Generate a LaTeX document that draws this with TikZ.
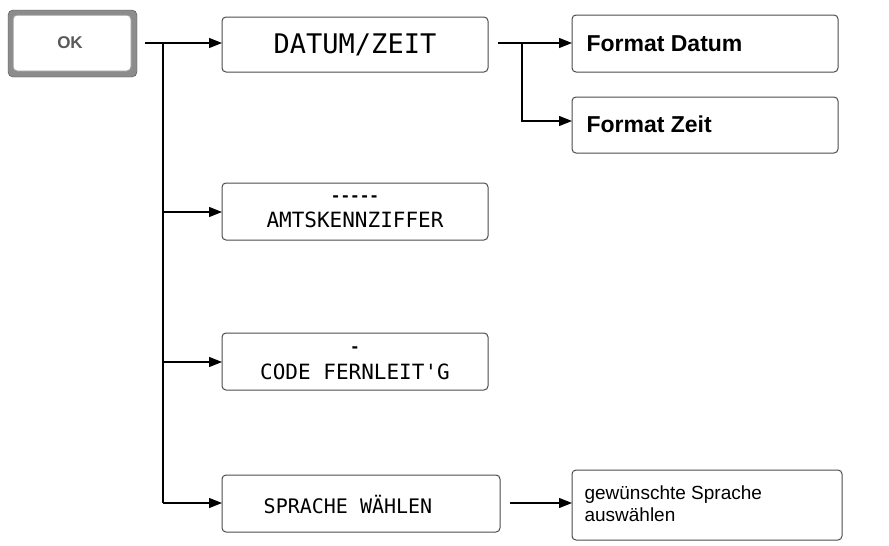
\documentclass[tikz,border=0pt]{standalone}
\usepackage{fontspec}
\setmainfont{Liberation Sans}
\newfontfamily\lcd{DejaVu Sans Mono}
\usetikzlibrary{arrows.meta}
\begin{document}
\begin{tikzpicture}[x=1pt,y=-1pt,
  box/.style={draw=black!70,line width=1pt,rounded corners=4pt},
  arr/.style={-{Triangle[length=13pt,width=10pt]},line width=1.3pt},
  ln/.style={line width=1.3pt}]
\useasboundingbox (0,0) rectangle (889,546);
% OK key
\draw[draw=black!70,fill=black!45,rounded corners=5pt] (8,10) rectangle (137,77);
\draw[draw=black!40,fill=white,line width=1pt,rounded corners=4pt] (13,15) rectangle (131,71);
\node[font=\fontsize{17}{17}\selectfont\bfseries,text=black!65] (ok) at (70,43) {OK};
\coordinate (okr) at (145,43);
\draw[box] (222,17) rectangle (488,72);
\node[font=\lcd\fontsize{27}{27}\selectfont] (dz) at (355,45) {DATUM/ZEIT};
\draw[box] (222,183) rectangle (488,240);
\node[font=\lcd\fontsize{21}{21}\selectfont] (am) at (355,220) {AMTSKENNZIFFER};
\node[font=\lcd\bfseries\fontsize{16}{16}\selectfont] (amd) at (355,199) {-----};
\draw[box] (222,333) rectangle (488,390);
\node[font=\lcd\fontsize{21}{21}\selectfont] (cf) at (355,372) {CODE FERNLEIT'G};
\node[font=\lcd\bfseries\fontsize{16}{16}\selectfont] (cfd) at (355,350) {-};
\draw[box] (222,475) rectangle (500,532);
\node[font=\lcd\fontsize{20}{20}\selectfont] (sw) at (348,505) {SPRACHE W\"AHLEN};
\draw[box] (572,15) rectangle (838,72);
\node[anchor=west,font=\bfseries\fontsize{23}{23}\selectfont] (fd) at (583,44) {Format Datum};
\draw[box] (572,97) rectangle (838,153);
\node[anchor=west,font=\bfseries\fontsize{23}{23}\selectfont] (fz) at (583,124) {Format Zeit};
\draw[box] (572,470) rectangle (842,540);
\node[anchor=west,align=left,font=\fontsize{19}{22}\selectfont] (gs) at (581,504) {gewünschte Sprache\\auswählen};
% connectors
\draw[ln] (okr) -- (163,43) -- (163,503);
\draw[arr] (163,43) -- (222,43);
\draw[arr] (163,212) -- (222,212);
\draw[arr] (163,362) -- (222,362);
\draw[arr] (163,503) -- (222,503);
\draw[arr] (498,43) -- (572,43);
\draw[arr] (522,43) -- (522,121) -- (572,121);
\draw[arr] (510,503) -- (572,503);
\end{tikzpicture}
\end{document}
